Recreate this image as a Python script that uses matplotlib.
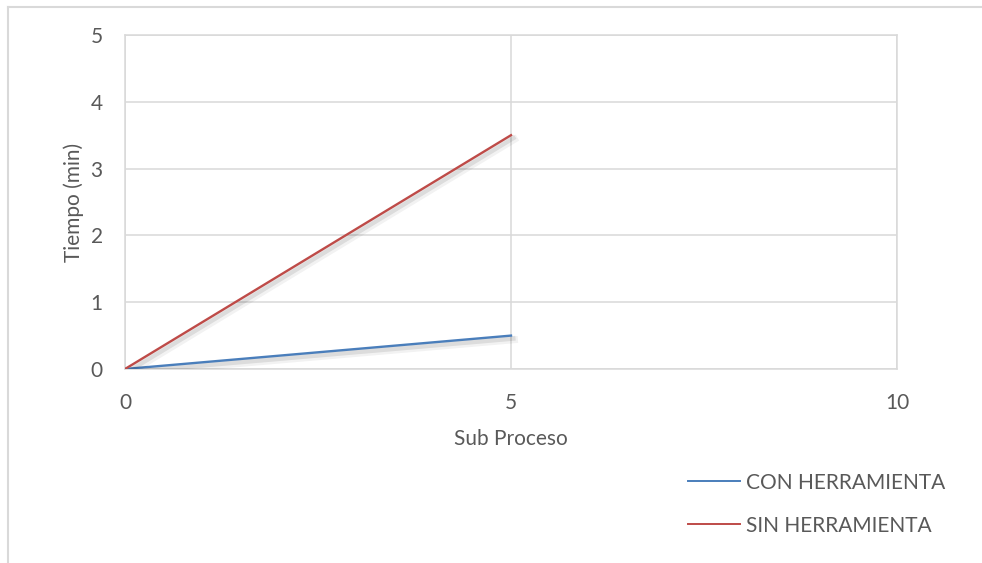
"""
Tiempo por sub proceso, con y sin herramienta (estilo Excel)
"""
import matplotlib
matplotlib.use('Agg')
import matplotlib.pyplot as plt
import matplotlib.patheffects as pe
from matplotlib.lines import Line2D

# datos
sub_proceso = [0, 5]
con_herramienta = [0, 0.5]
sin_herramienta = [0, 3.5]
series_names = ['CON HERRAMIENTA', 'SIN HERRAMIENTA']
x_ticks = [0, 5, 10]
y_ticks = [0, 1, 2, 3, 4, 5]

TEXT = '#595959'
GRID = '#d9d9d9'
BLUE = '#4a7ebb'
RED = '#be4b48'
FS = 15

plt.rcParams['font.family'] = ['Lato', 'DejaVu Sans']

fig = plt.figure(figsize=(9.82, 5.63), dpi=100)
ax = fig.add_axes([125 / 982, 1 - 369 / 563, (897 - 125) / 982, (369 - 35) / 563])

shadow = [pe.SimpleLineShadow(offset=(1.5, -2), shadow_color='#000000', alpha=0.09, linewidth=3.5),
          pe.SimpleLineShadow(offset=(2.5, -3), shadow_color='#000000', alpha=0.05, linewidth=5),
          pe.Normal()]
ax.plot(sub_proceso, con_herramienta, color=BLUE, lw=1.7, path_effects=shadow, zorder=3)
ax.plot(sub_proceso, sin_herramienta, color=RED, lw=1.7, path_effects=shadow, zorder=3)

ax.set_xlim(0, 10)
ax.set_ylim(0, 5)
ax.set_xticks(x_ticks)
ax.set_yticks(y_ticks)
ax.grid(True, color=GRID, lw=1.1, zorder=0)
ax.set_axisbelow(True)
for s in ax.spines.values():
    s.set_color(GRID)
    s.set_linewidth(1.1)
ax.tick_params(length=0, labelsize=FS, colors=TEXT)
ax.tick_params(axis='x', pad=17)
ax.tick_params(axis='y', pad=16)

ax.set_xlabel('Sub Proceso', fontsize=FS, color=TEXT, labelpad=12)
ax.set_ylabel('Tiempo (min)', fontsize=FS, color=TEXT, labelpad=5)

handles = [Line2D([], [], color=BLUE, lw=1.4), Line2D([], [], color=RED, lw=1.4)]
fig.legend(handles, series_names, loc='upper left', bbox_to_anchor=(669 / 982, 1 - 454 / 563),
           frameon=False, fontsize=FS, labelcolor=TEXT, handlelength=2.5,
           handletextpad=0.3, labelspacing=1.1)

# borde del grafico
fig.add_artist(Line2D([8 / 982, 8 / 982], [0, 1 - 7 / 563], transform=fig.transFigure,
                      color=GRID, lw=1.5))
fig.add_artist(Line2D([8 / 982, 1], [1 - 7 / 563, 1 - 7 / 563], transform=fig.transFigure,
                      color=GRID, lw=1.5))

fig.savefig('out.png', dpi=100)
